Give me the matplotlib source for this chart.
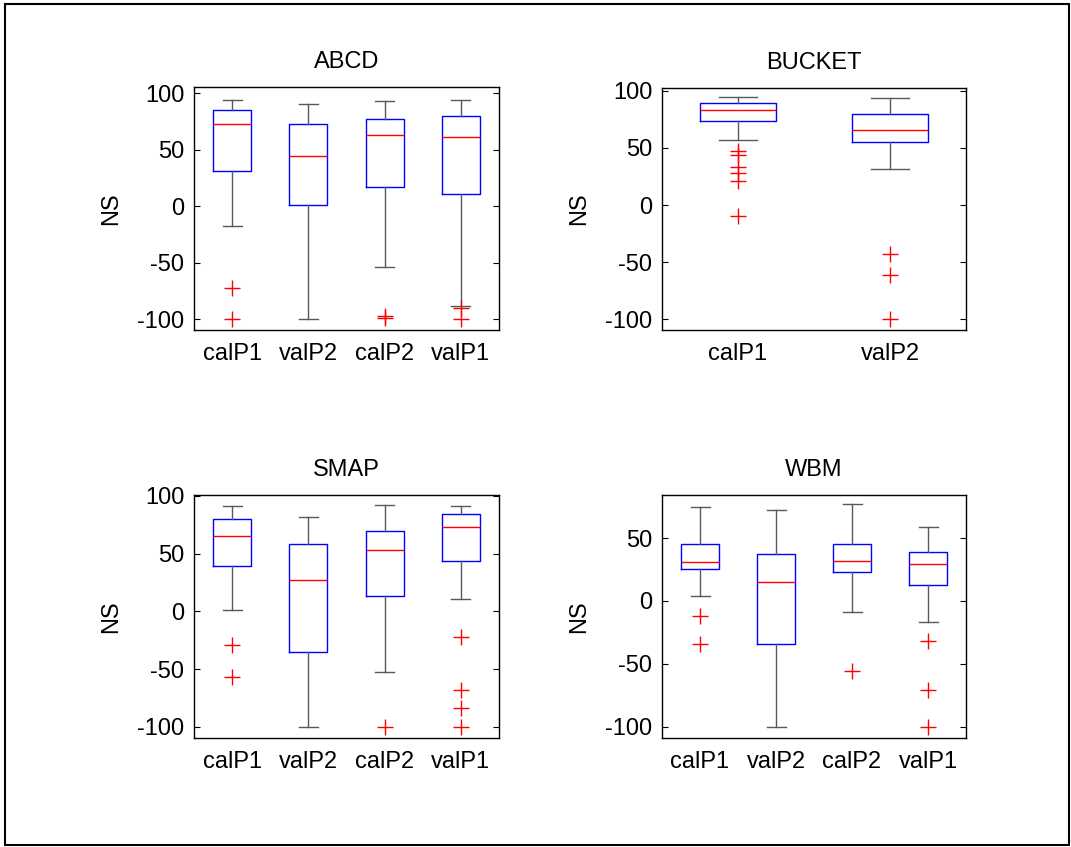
import matplotlib
matplotlib.use("Agg")
import matplotlib.pyplot as plt
from matplotlib.patches import Rectangle

plt.rcParams['font.family'] = ['Liberation Sans', 'DejaVu Sans']
plt.rcParams['font.size'] = 17
plt.rcParams['axes.unicode_minus'] = False

# 各模型的箱線圖統計值
groups4 = ['calP1', 'valP2', 'calP2', 'valP1']
groups2 = ['calP1', 'valP2']

abcd_hi = [94, 91, 93, 94]
abcd_q3 = [85, 73, 77, 80]
abcd_med = [73, 45, 63, 61]
abcd_q1 = [31, 1, 17, 11]
abcd_lo = [-17, -100, -54, -88]
abcd_out = [[-72, -100], [], [-97, -99], [-90, -100]]

bucket_hi = [95, 94]
bucket_q3 = [89, 80]
bucket_med = [83, 66]
bucket_q1 = [74, 55]
bucket_lo = [57, 32]
bucket_out = [[47, 44, 33, 28, 21, -10], [-43, -61, -100]]

smap_hi = [91, 82, 92, 91]
smap_q3 = [80, 58, 70, 84]
smap_med = [65, 27, 53, 73]
smap_q1 = [39, -35, 13, 44]
smap_lo = [1, -100, -53, 11]
smap_out = [[-29, -57], [], [-100], [-22, -68, -84, -100]]

wbm_hi = [75, 72, 77, 59]
wbm_q3 = [45, 37, 45, 39]
wbm_med = [31, 15, 32, 29]
wbm_q1 = [25, -34, 23, 13]
wbm_lo = [4, -100, -9, -17]
wbm_out = [[-12, -34], [], [-56], [-32, -71, -100]]

panels = [
    ('ABCD', groups4, abcd_lo, abcd_q1, abcd_med, abcd_q3, abcd_hi, abcd_out,
     (-109.5, 105.7), [-100, -50, 0, 50, 100]),
    ('BUCKET', groups2, bucket_lo, bucket_q1, bucket_med, bucket_q3, bucket_hi, bucket_out,
     (-109.4, 102.5), [-100, -50, 0, 50, 100]),
    ('SMAP', groups4, smap_lo, smap_q1, smap_med, smap_q3, smap_hi, smap_out,
     (-109.8, 100.8), [-100, -50, 0, 50, 100]),
    ('WBM', groups4, wbm_lo, wbm_q1, wbm_med, wbm_q3, wbm_hi, wbm_out,
     (-109, 84.2), [-100, -50, 0, 50]),
]

W, H = 1071, 847
fig = plt.figure(figsize=(W / 100, H / 100), dpi=100)

# 軸的位置 (像素 -> 比例)
boxes_px = [(194, 87, 499, 330), (662, 88, 966, 330),
            (194, 495, 499, 738), (662, 495, 966, 738)]

for (title, names, lo, q1, med, q3, hi, out, ylim, yt), (x0, y0, x1, y1) in zip(panels, boxes_px):
    ax = fig.add_axes([x0 / W, 1 - y1 / H, (x1 - x0) / W, (y1 - y0) / H])
    stats = []
    for i, n in enumerate(names):
        stats.append(dict(label=n, whislo=lo[i], q1=q1[i], med=med[i],
                          q3=q3[i], whishi=hi[i], fliers=out[i]))
    n = len(names)
    ax.bxp(stats, positions=range(1, n + 1), widths=0.5, capwidths=0.25,
           showfliers=True,
           boxprops=dict(color='blue', linewidth=1),
           medianprops=dict(color='red', linewidth=1),
           whiskerprops=dict(color='0.35', linewidth=1),
           capprops=dict(color='0.35', linewidth=1),
           flierprops=dict(marker='+', markeredgecolor='red', markersize=11,
                           markeredgewidth=1, linestyle='none'))
    ax.set_xlim(0.5, n + 0.5)
    ax.set_ylim(*ylim)
    ax.set_yticks(yt)
    ax.set_xticks(range(1, n + 1))
    ax.set_xticklabels(names)
    ax.tick_params(axis='y', direction='in', left=True, right=True, length=4, pad=7)
    ax.tick_params(axis='x', length=0, pad=9)
    ax.set_title(title, fontsize=17, pad=14)
    ax.set_ylabel('NS', fontsize=17)
    ax.yaxis.set_label_coords(-0.235, 0.5)
    for s in ax.spines.values():
        s.set_linewidth(1)

# 外框
fig.add_artist(Rectangle((5 / W, 1 - 845 / H), 1064 / W, 841 / H,
                         transform=fig.transFigure, fill=False,
                         edgecolor='black', linewidth=1.5))

fig.savefig('out.png', dpi=100)
